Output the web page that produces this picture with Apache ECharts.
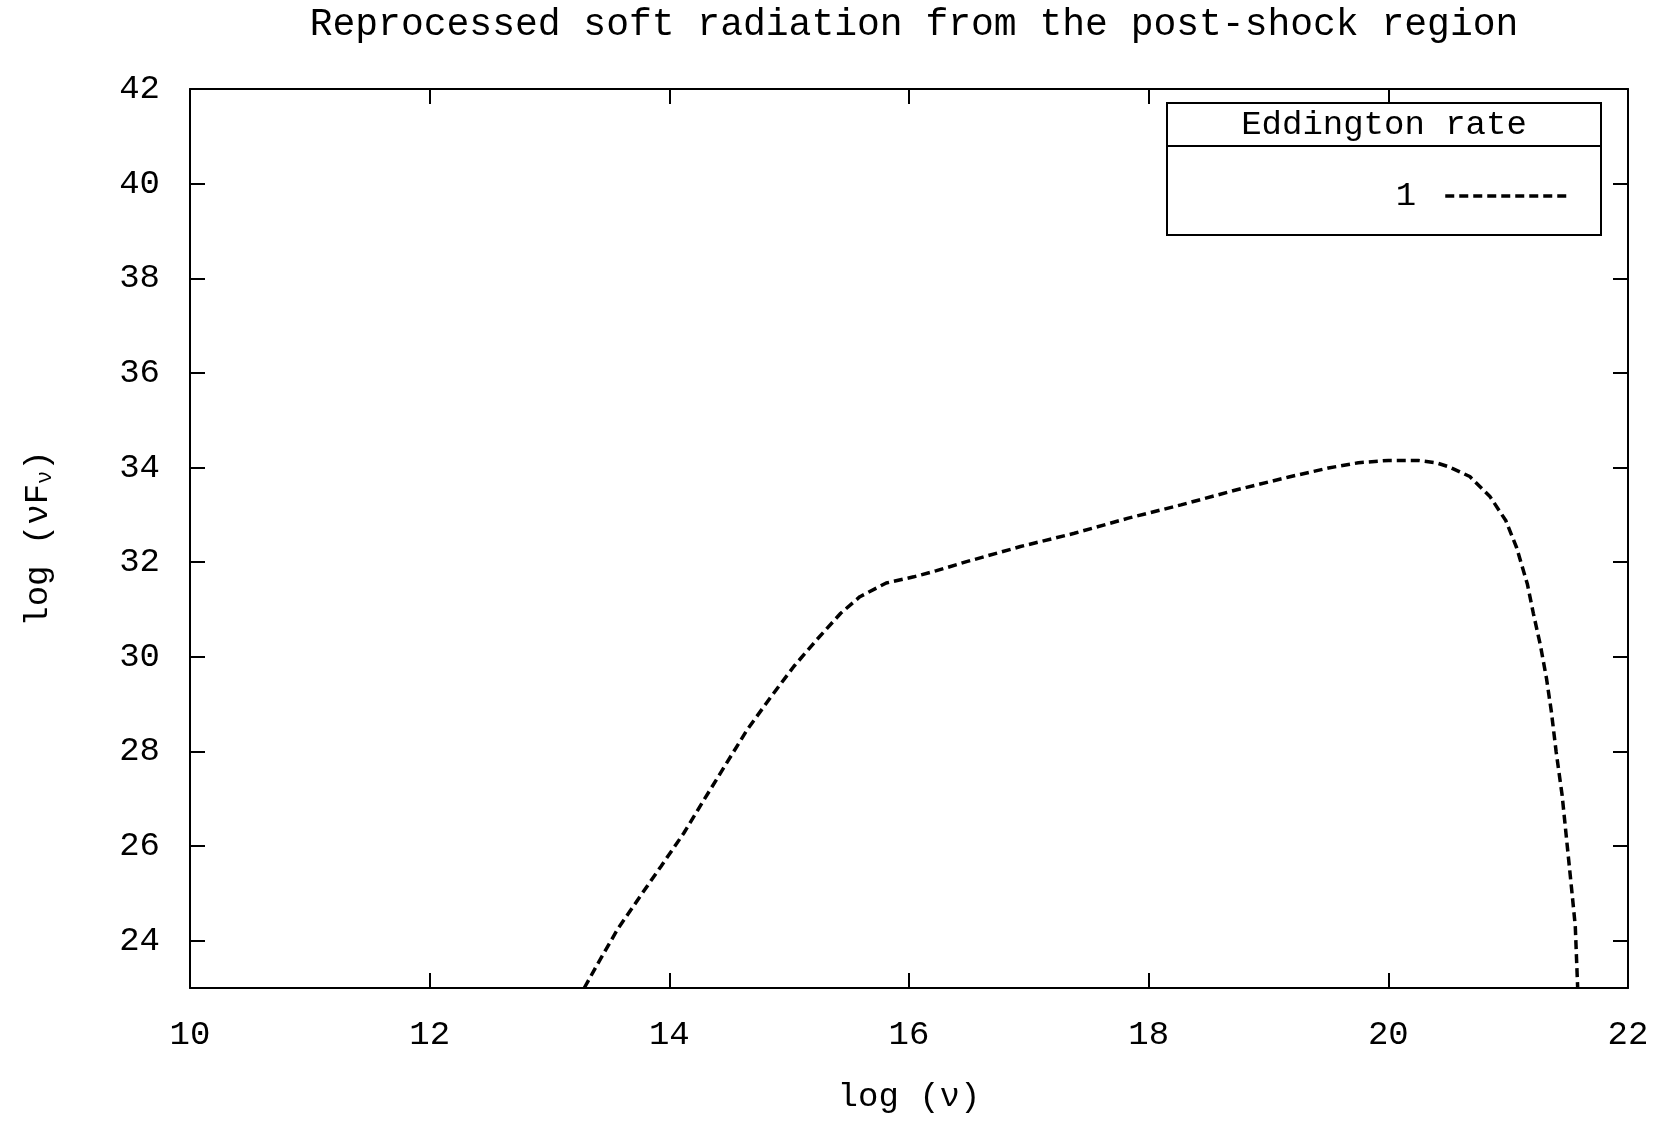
<!DOCTYPE html>
<html>
<head>
<meta charset="utf-8">
<style>
  html, body { margin: 0; padding: 0; background: #fff; }
  #chart { width: 1672px; height: 1122px; }
</style>
<script src="https://cdn.jsdelivr.net/npm/echarts@6/dist/echarts.min.js"></script>
</head>
<body>
<div id="chart"></div>
<script>
// log(nu) and log(nu F_nu)
var logNu = [13.29, 13.40, 13.57, 13.76, 13.93, 14.12, 14.29, 14.46, 14.65, 14.85,
  15.04, 15.23, 15.43, 15.59, 15.81, 16.04, 16.23, 16.48, 16.93, 17.38,
  17.83, 18.27, 18.72, 19.17, 19.50, 19.75, 20.00, 20.25, 20.40, 20.50,
  20.68, 20.85, 20.98, 21.07, 21.16, 21.21, 21.27, 21.32, 21.36, 21.40,
  21.45, 21.49, 21.53, 21.56, 21.58];
var logNuFnu = [23.00, 23.50, 24.25, 24.95, 25.57, 26.27, 26.98, 27.68, 28.46, 29.16,
  29.80, 30.36, 30.92, 31.27, 31.56, 31.69, 31.82, 32.01, 32.33, 32.61,
  32.93, 33.21, 33.52, 33.80, 33.99, 34.10, 34.15, 34.15, 34.10, 34.02,
  33.81, 33.38, 32.88, 32.31, 31.54, 30.92, 30.23, 29.54, 28.85, 28.00,
  27.08, 26.08, 25.08, 24.31, 23.00];
var xTicks = [10, 12, 14, 16, 18, 20, 22];
var yTicks = [24, 26, 28, 30, 32, 34, 36, 38, 40, 42];
var seriesName = '1';

var font = 'Liberation Mono';
var ink = '#000';

var points = logNu.map(function(x, i) { return [x, logNuFnu[i]]; });

var chart = echarts.init(document.getElementById('chart'));

var baseX = {
  type: 'value', min: 10, max: 22,
  axisLine: { show: true, onZero: false, lineStyle: { color: ink, width: 2 } },
  axisTick: { show: true, inside: true, length: 15, customValues: xTicks, lineStyle: { color: ink, width: 2 } },
  splitLine: { show: false }
};
var baseY = {
  type: 'value', min: 23, max: 42,
  axisLine: { show: true, onZero: false, lineStyle: { color: ink, width: 2 } },
  axisTick: { show: true, inside: true, length: 15, customValues: yTicks, lineStyle: { color: ink, width: 2 } },
  splitLine: { show: false }
};

chart.setOption({
  animation: false,
  backgroundColor: '#fff',
  title: {
    text: 'Reprocessed soft radiation from the post-shock region',
    left: 909,
    textAlign: 'center',
    top: 1,
    textStyle: { fontFamily: font, fontSize: 38, fontWeight: 'normal', color: ink }
  },
  grid: { left: 190, right: 44, top: 89, bottom: 134 },
  xAxis: [
    Object.assign({}, baseX, {
      position: 'bottom',
      axisLabel: { customValues: xTicks, margin: 30, fontFamily: font, fontSize: 34, color: ink },
      name: 'log (ν)',
      nameLocation: 'middle',
      nameGap: 92,
      nameTextStyle: { fontFamily: font, fontSize: 34, color: ink }
    }),
    Object.assign({}, baseX, { position: 'top', axisLabel: { show: false } })
  ],
  yAxis: [
    Object.assign({}, baseY, {
      position: 'left',
      axisLabel: { customValues: yTicks, margin: 30, fontFamily: font, fontSize: 34, color: ink },
      name: 'log (νF{sub|ν})',
      nameLocation: 'middle',
      nameRotate: 90,
      nameGap: 134,
      nameTextStyle: {
        fontFamily: font, fontSize: 34, color: ink,
        rich: { sub: { fontFamily: font, fontSize: 22, color: ink, padding: [14, 0, 0, 0] } }
      }
    }),
    Object.assign({}, baseY, { position: 'right', axisLabel: { show: false } })
  ],
  legend: {
    data: [seriesName],
    right: 96,
    top: 174,
    align: 'right',
    itemWidth: 124,
    itemHeight: 14,
    z: 10,
    itemStyle: { opacity: 0 },
    lineStyle: { color: ink, width: 3.5, type: [9, 5] },
    textStyle: { fontFamily: font, fontSize: 34, color: ink, padding: [0, 24, 0, 0] }
  },
  graphic: [
    {
      type: 'rect', z: 5,
      shape: { x: 1167, y: 103, width: 434, height: 132 },
      style: { fill: '#fff', stroke: ink, lineWidth: 2 }
    },
    {
      type: 'line', z: 6,
      shape: { x1: 1167, y1: 146, x2: 1601, y2: 146 },
      style: { stroke: ink, lineWidth: 2 }
    },
    {
      type: 'text', z: 6,
      x: 1384, y: 125,
      style: {
        text: 'Eddington rate', fill: ink,
        font: '34px "Liberation Mono"',
        align: 'center', verticalAlign: 'middle'
      }
    }
  ],
  series: [{
    name: seriesName,
    type: 'line',
    data: points,
    showSymbol: false,
    symbol: 'none',
    clip: true,
    lineStyle: { color: ink, width: 3.5, type: [9, 5] },
    itemStyle: { color: ink }
  }]
});
window.addEventListener('resize', function() { chart.resize(); });
</script>
</body>
</html>
